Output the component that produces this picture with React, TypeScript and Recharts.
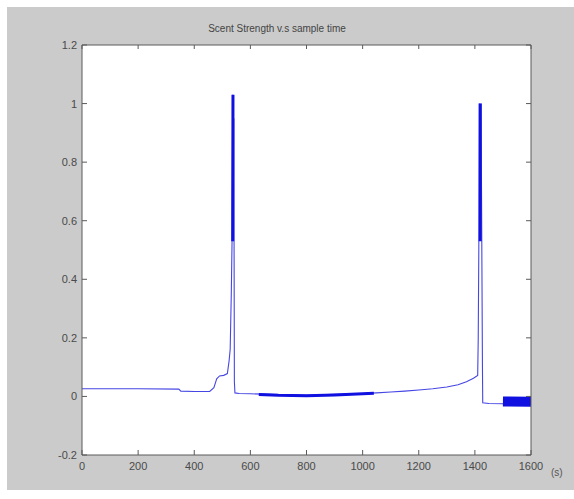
import { LineChart, Line, XAxis, YAxis, CartesianGrid } from 'recharts'

// sample time (s) / scent strength, thin trace
const traceTime = [
  0, 100, 200, 345, 352, 400, 455, 470, 480, 490, 505, 518, 524, 528, 532, 535,
  537, 539, 541, 543, 545, 560, 600, 700, 800, 900, 1000, 1050,
  1100, 1150, 1200, 1250, 1300, 1340, 1370, 1395, 1410, 1412, 1414,
  1416, 1419, 1422, 1425, 1427, 1428, 1450, 1500, 1600,
]
const traceValue = [
  0.026, 0.026, 0.026, 0.025, 0.018, 0.017, 0.017, 0.03, 0.06, 0.07, 0.072, 0.078, 0.12, 0.16, 0.35, 0.55,
  1.03, 0.62, 0.95, 0.05, 0.012, 0.01, 0.009, 0.006, 0.004, 0.007, 0.01, 0.012,
  0.015, 0.018, 0.022, 0.026, 0.032, 0.04, 0.05, 0.062, 0.072, 0.2, 0.5,
  1.0, 0.8, 1.0, 0.46, 0.1, -0.022, -0.024, -0.025, -0.022,
]

// dense noisy stretches (drawn thick), null splits the stretches
const denseTime = [537, 538, 538, 630, 700, 800, 900, 1000, 1040, 1040, 1419, 1419]
const denseValue = [0.53, 1.03, null, 0.007, 0.004, 0.002, 0.005, 0.009, 0.011, null, 0.53, 1.0]

// tail stretch after 1500 s
const tailTime = [1500, 1600]
const tailValue = [-0.017, -0.018]

const xTicks = [0, 200, 400, 600, 800, 1000, 1200, 1400, 1600]
const yTicks = [-0.2, 0, 0.2, 0.4, 0.6, 0.8, 1, 1.2]
const yTickLabels = ['-0.2', '0', '0.2', '0.4', '0.6', '0.8', '1', '1.2']

const trace = traceTime.map((t, i) => ({ t, v: traceValue[i] }))
const dense = denseTime.map((t, i) => ({ t, v: denseValue[i] }))
const tail = tailTime.map((t, i) => ({ t, v: tailValue[i] }))

const AXIS = '#5a5a5a'
const TXT = '#4a4a4a'
const FONT = 'Liberation Sans, Arial, sans-serif'

const BottomTick = (p: any) => (
  <g>
    <line x1={p.x} y1={p.y} x2={p.x} y2={p.y - 5} stroke={AXIS} />
    <text x={p.x} y={p.y + 15} textAnchor="middle" fontSize={11} fill={TXT} fontFamily={FONT}>
      {p.payload.value}
    </text>
  </g>
)

const TopTick = (p: any) => <line x1={p.x} y1={p.y} x2={p.x} y2={p.y + 4} stroke={AXIS} />

const LeftTick = (p: any) => {
  const idx = yTicks.findIndex((v) => Math.abs(v - p.payload.value) < 1e-6)
  return (
    <g>
      <line x1={p.x} y1={p.y} x2={p.x + 5} y2={p.y} stroke={AXIS} />
      <text x={p.x - 5} y={p.y + 4} textAnchor="end" fontSize={11} fill={TXT} fontFamily={FONT}>
        {yTickLabels[idx]}
      </text>
    </g>
  )
}

const RightTick = (p: any) => <line x1={p.x} y1={p.y} x2={p.x - 5} y2={p.y} stroke={AXIS} />

export default function App() {
  return (
    <div style={{ position: 'absolute', left: 0, top: 0, width: 574, height: 499, background: '#fff', overflow: 'hidden' }}>
      <div style={{ position: 'absolute', left: 7, top: 7, width: 567, height: 483, background: '#cbcbcb' }} />
      <div
        style={{
          position: 'absolute', left: 177, top: 23, width: 200, textAlign: 'center',
          fontSize: 10, color: '#444', fontFamily: FONT,
        }}
      >
        Scent Strength v.s sample time
      </div>
      <div style={{ position: 'absolute', left: 551, top: 467, fontSize: 10, color: '#555', fontFamily: FONT }}>(s)</div>
      <div style={{ position: 'absolute', left: 0, top: 0 }}>
        <LineChart width={574} height={499} margin={{ top: 44, right: 42, bottom: 43, left: 81 }}>
          <CartesianGrid fill="#fff" horizontal={false} vertical={false} stroke="none" />
          <XAxis
            dataKey="t" type="number" domain={[0, 1600]} ticks={xTicks} allowDataOverflow
            height={1} tickSize={0} tickMargin={0} stroke={AXIS} tickLine={false} tick={<BottomTick />}
            interval={0}
          />
          <XAxis
            xAxisId="top" orientation="top" dataKey="t" type="number" domain={[0, 1600]} ticks={xTicks}
            allowDataOverflow height={1} tickSize={0} tickMargin={0} stroke={AXIS} tickLine={false}
            tick={<TopTick />} interval={0}
          />
          <YAxis
            type="number" domain={[-0.2, 1.2]} ticks={yTicks} allowDataOverflow width={1}
            tickSize={0} tickMargin={0} stroke={AXIS} tickLine={false} tick={<LeftTick />} interval={0}
          />
          <YAxis
            yAxisId="right" orientation="right" type="number" domain={[-0.2, 1.2]} ticks={yTicks}
            allowDataOverflow width={1} tickSize={0} tickMargin={0} stroke={AXIS} tickLine={false}
            tick={<RightTick />} interval={0}
          />
          <Line data={trace} type="linear" dataKey="v" stroke="#4646e4" strokeWidth={1.1} dot={false} isAnimationActive={false} />
          <Line data={dense} type="linear" dataKey="v" stroke="#1010e0" strokeWidth={3} dot={false} isAnimationActive={false} />
          <Line data={tail} type="linear" dataKey="v" stroke="#1010e0" strokeWidth={10} dot={false} isAnimationActive={false} />
        </LineChart>
      </div>
    </div>
  )
}
